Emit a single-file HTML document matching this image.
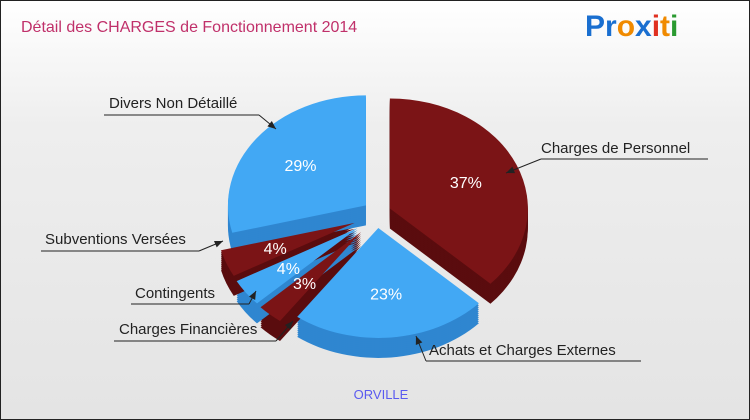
<!DOCTYPE html>
<html><head><meta charset="utf-8"><style>
body{margin:0;background:#fff}
#c{position:relative;width:748px;height:418px;border:1px solid #222;background:linear-gradient(#fff,#eee 30%,#e4e4e4);font-family:"Liberation Sans",sans-serif;overflow:hidden}
svg text{font-family:"Liberation Sans",sans-serif}
</style></head><body>
<div id="c">
<svg id="s" width="748" height="418">
<text x="20" y="31" font-size="16" fill="#c0306a">Détail des CHARGES de Fonctionnement 2014</text>
<text x="584" y="35" font-size="30" font-weight="bold"><tspan fill="#1a6fd0">Pr</tspan><tspan fill="#f08a00">o</tspan><tspan fill="#1a6fd0">x</tspan><tspan fill="#e03020">i</tspan><tspan fill="#f08a00">t</tspan><tspan fill="#2a9a30">i</tspan></text>
<text x="380" y="398" font-size="13" fill="#5a5af0" text-anchor="middle">ORVILLE</text>
<g id="pie"></g><g id="lab"></g>
</svg></div>
<script>
const categories=["Charges de Personnel","Achats et Charges Externes","Charges Financières","Contingents","Subventions Versées","Divers Non Détaillé"];
const values=[37,23,3,4,4,29];
const labels=["37%","23%","3%","4%","4%","29%"];
const NS="http://www.w3.org/2000/svg";
const cx=376,cy=213,rx=138,ry=110,depth=20;
const tops=["#7b1416","#42a8f4","#7b1416","#42a8f4","#7b1416","#42a8f4"];
const sides=["#5a0c0e","#2f86d0","#5a0c0e","#2f86d0","#5a0c0e","#2f86d0"];
const pie=document.getElementById('pie'),lab=document.getElementById('lab');
const total=values.reduce((a,b)=>a+b,0);
function P(a,ox,oy,dy){return [cx+ox+rx*Math.cos(a),cy+oy+dy+ry*Math.sin(a)];}
function wedge(a0,a1,ox,oy,dy){const s=P(a0,ox,oy,dy),e=P(a1,ox,oy,dy);const big=(a1-a0)>Math.PI?1:0;
return `M${cx+ox},${cy+oy+dy}L${s[0]},${s[1]}A${rx},${ry} 0 ${big} 1 ${e[0]},${e[1]}Z`;}
let a=-Math.PI/2;const sl=[];
values.forEach((v,i)=>{const a1=a+v/total*2*Math.PI;const m=(a+a1)/2;const ex=v<8?24:14;sl.push({a0:a,a1,m,ox:ex*Math.cos(m),oy:ex*Math.sin(m)});a=a1;});
sl.forEach((d,i)=>{for(let k=depth;k>0;k-=2){const p=document.createElementNS(NS,'path');p.setAttribute('d',wedge(d.a0,d.a1,d.ox,d.oy,k));p.setAttribute('fill',sides[i]);


pie.appendChild(p);}});
sl.forEach((d,i)=>{const p=document.createElementNS(NS,'path');p.setAttribute('d',wedge(d.a0,d.a1,d.ox,d.oy,0));p.setAttribute('fill',tops[i]);


pie.appendChild(p);
const t=document.createElementNS(NS,'text');const r=values[i]<8?0.62:0.6;
t.setAttribute('x',cx+d.ox+rx*r*Math.cos(d.m));t.setAttribute('y',cy+d.oy+ry*r*Math.sin(d.m)+6);
t.setAttribute('text-anchor','middle');t.setAttribute('font-size','16');t.setAttribute('fill','#fff');t.textContent=labels[i];


lab.appendChild(t);});
const callouts=[[540,152,"start",540,158,707,158,505,172],[428,354,"start",425,360,640,360,415,335],[118,333,"start",113,340,275,340,292,320],[134,297,"start",130,303,248,303,255,290],[44,243,"start",40,250,198,250,222,240],[108,107,"start",103,114,258,114,275,128]];
callouts.forEach((c,i)=>{const t=document.createElementNS(NS,'text');t.setAttribute('x',c[0]);t.setAttribute('y',c[1]);t.setAttribute('font-size','15');t.setAttribute('fill','#222');t.textContent=categories[i];


lab.appendChild(t);
const l=document.createElementNS(NS,'polyline');
const near=Math.abs(c[3]-c[7])<Math.abs(c[5]-c[7])?[c[3],c[4]]:[c[5],c[6]];
l.setAttribute('points',`${c[3]},${c[4]} ${c[5]},${c[6]}`);l.setAttribute('stroke','#222');l.setAttribute('fill','none');


lab.appendChild(l);
const l2=document.createElementNS(NS,'line');l2.setAttribute('x1',near[0]);l2.setAttribute('y1',near[1]);l2.setAttribute('x2',c[7]);l2.setAttribute('y2',c[8]);l2.setAttribute('stroke','#222');


lab.appendChild(l2);
const ang=Math.atan2(c[8]-near[1],c[7]-near[0]);const h=document.createElementNS(NS,'path');
const x=c[7],y=c[8];h.setAttribute('d',`M${x},${y}L${x-9*Math.cos(ang-0.4)},${y-9*Math.sin(ang-0.4)}L${x-9*Math.cos(ang+0.4)},${y-9*Math.sin(ang+0.4)}Z`);h.setAttribute('fill','#222');


lab.appendChild(h);});
</script>
</body></html>
